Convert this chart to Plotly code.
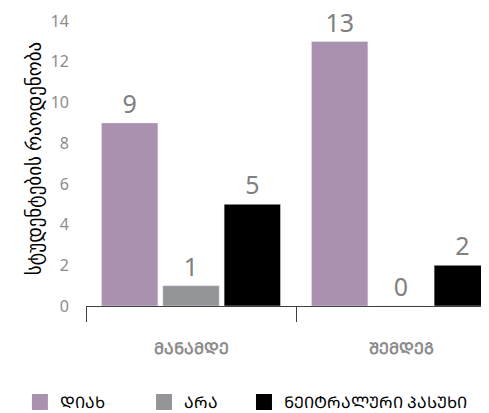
import plotly.graph_objects as go

categories = ["ᲛᲐᲜᲐᲛᲓᲔ", "ᲨᲔᲛᲓᲔᲒ"]
series_names = ["ᲓᲘᲐᲮ", "ᲐᲠᲐ", "ᲜᲔᲘᲢᲠᲐᲚᲣᲠᲘ ᲞᲐᲡᲣᲮᲘ"]
yes_values = [9, 13]
no_values = [1, 0]
neutral_values = [5, 2]
colors = ["#ab91b0", "#939598", "#000000"]
y_ticks = [0, 2, 4, 6, 8, 10, 12, 14]
y_title = "სტუდენტების რაოდენობა"

FONT = "Noto Sans, DejaVu Sans, sans-serif"
legend_ids = ["legend", "legend2", "legend3"]
legend_x = [-0.164, 0.144, 0.392]

fig = go.Figure()
for name, vals, col in zip(series_names, [yes_values, no_values, neutral_values], colors):
    fig.add_trace(go.Bar(
        x=categories, y=vals, name=name, marker_color=col,
        text=[str(v) for v in vals], textposition="outside",
        textfont=dict(size=25, color="#808080", family=FONT),
        cliponaxis=False, showlegend=False,
    ))
for name, col, lid in zip(series_names, colors, legend_ids):
    fig.add_trace(go.Scatter(
        x=[None], y=[None], mode="markers", name=name, legend=lid,
        marker=dict(symbol="square", size=20, color=col),
    ))

# page body has an 8px default margin; margins below compensate for it
fig.update_layout(
    width=489, height=413,
    margin=dict(l=78, r=8, t=3, b=115, autoexpand=False),
    plot_bgcolor="white", paper_bgcolor="white",
    barmode="group", bargap=0.124, bargroupgap=0.08,
    font=dict(family=FONT),
    uniformtext=dict(mode=False),
)
for lid, lx in zip(legend_ids, legend_x):
    fig.update_layout({lid: dict(
        orientation="h", x=lx, xref="paper", y=-0.326, yanchor="middle",
        xanchor="left", font=dict(size=16, color="#000000"), bgcolor="rgba(0,0,0,0)",
    )})
fig.update_xaxes(
    type="category", range=[-0.5, 1.419], automargin=False,
    showline=True, linecolor="#404040", linewidth=1,
    ticks="outside", tickson="boundaries", ticklen=15, tickcolor="#404040",
    tickfont=dict(size=16, color="#8c8c8c", family=FONT, weight="bold"), ticklabelstandoff=28,
    showgrid=False,
)
fig.update_yaxes(
    range=[0, 14.5], tickvals=y_ticks, showgrid=False, zeroline=False, showline=False,
    automargin=False,
    tickfont=dict(size=16, color="#8c8c8c", family=FONT), ticklabelstandoff=16,
    title=dict(text=y_title, font=dict(size=19, color="#000000", family=FONT), standoff=4),
)
fig.write_html("out.html")
